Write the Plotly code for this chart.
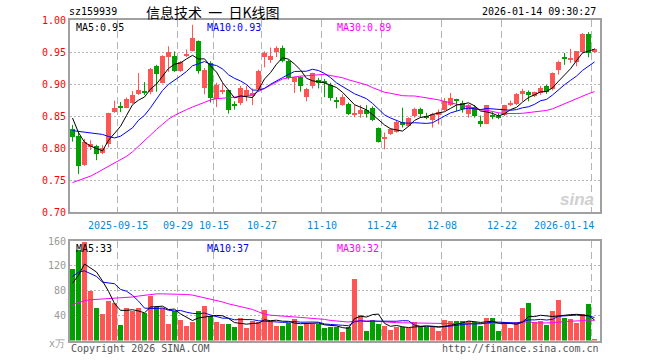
import plotly.graph_objects as go
import pandas as pd

# ---------------- data ----------------
holidays = ["2025-10-01", "2025-10-02", "2025-10-03", "2025-10-06", "2025-10-07",
            "2025-10-08", "2026-01-01", "2026-01-02"]
dates = [d.strftime("%Y-%m-%d") for d in pd.bdate_range("2025-09-03", "2026-01-14")
         if d.strftime("%Y-%m-%d") not in holidays]

opens = [0.830, 0.818, 0.7734, 0.802, 0.8024, 0.7915, 0.807, 0.8562, 0.865, 0.863,
         0.8707, 0.8837, 0.889, 0.888, 0.928, 0.902, 0.942, 0.944, 0.921, 0.943,
         0.952, 0.9666, 0.893, 0.933, 0.877, 0.889, 0.890, 0.869, 0.871, 0.881,
         0.882, 0.8915, 0.9417, 0.9376, 0.9505, 0.956, 0.9365, 0.9034, 0.9106, 0.880,
         0.8966, 0.907, 0.9036, 0.8992, 0.8735, 0.867, 0.869, 0.852, 0.8526, 0.8588,
         0.863, 0.832, 0.815, 0.8226, 0.8257, 0.840, 0.8345, 0.850, 0.8604, 0.850,
         0.8433, 0.851, 0.8588, 0.867, 0.8745, 0.871, 0.8537, 0.864, 0.842, 0.838,
         0.8516, 0.850, 0.8516, 0.867, 0.8692, 0.8847, 0.8878, 0.8811, 0.8863, 0.8966,
         0.8915, 0.9225, 0.9397, 0.9386, 0.9344, 0.9495, 0.978, 0.950]
highs = [0.836, 0.825, 0.814, 0.812, 0.805, 0.8044, 0.855, 0.874, 0.872, 0.879,
         0.889, 0.917, 0.903, 0.925, 0.930, 0.945, 0.959, 0.951, 0.936, 0.954,
         0.9925, 0.968, 0.925, 0.9355, 0.902, 0.902, 0.891, 0.873, 0.897, 0.897,
         0.893, 0.9225, 0.951, 0.957, 0.959, 0.960, 0.938, 0.911, 0.912, 0.894,
         0.9175, 0.9096, 0.908, 0.902, 0.8795, 0.884, 0.871, 0.867, 0.867, 0.867,
         0.865, 0.832, 0.824, 0.831, 0.8422, 0.863, 0.848, 0.863, 0.863, 0.855,
         0.855, 0.860, 0.878, 0.886, 0.877, 0.874, 0.869, 0.867, 0.8507, 0.8673,
         0.856, 0.855, 0.8675, 0.874, 0.886, 0.8925, 0.890, 0.888, 0.897, 0.899,
         0.918, 0.9365, 0.9484, 0.955, 0.951, 0.9795, 0.981, 0.956]
lows = [0.810, 0.7594, 0.772, 0.797, 0.781, 0.7905, 0.801, 0.855, 0.856, 0.862,
        0.869, 0.883, 0.883, 0.884, 0.888, 0.901, 0.919, 0.919, 0.919, 0.942,
        0.951, 0.916, 0.884, 0.871, 0.864, 0.884, 0.8537, 0.860, 0.867, 0.873,
        0.867, 0.890, 0.926, 0.933, 0.942, 0.934, 0.907, 0.886, 0.888, 0.873,
        0.893, 0.893, 0.8795, 0.874, 0.862, 0.866, 0.8516, 0.848, 0.8474, 0.8474,
        0.842, 0.8085, 0.798, 0.8205, 0.824, 0.832, 0.833, 0.8474, 0.8474, 0.845,
        0.832, 0.837, 0.858, 0.8655, 0.858, 0.8552, 0.8475, 0.8475, 0.833, 0.837,
        0.845, 0.845, 0.850, 0.8655, 0.867, 0.873, 0.873, 0.8795, 0.883, 0.8847,
        0.890, 0.9148, 0.930, 0.933, 0.9277, 0.9484, 0.9417, 0.9484]
closes = [0.8174, 0.7718, 0.8101, 0.806, 0.7905, 0.7993, 0.854, 0.862, 0.863, 0.876,
          0.8827, 0.890, 0.887, 0.924, 0.916, 0.944, 0.950, 0.921, 0.934, 0.947,
          0.972, 0.921, 0.9225, 0.8785, 0.899, 0.890, 0.859, 0.865, 0.894, 0.890,
          0.886, 0.921, 0.9484, 0.9433, 0.956, 0.9365, 0.9096, 0.9106, 0.8966, 0.8915,
          0.917, 0.901, 0.903, 0.8785, 0.873, 0.880, 0.8537, 0.853, 0.8588, 0.8526,
          0.8433, 0.810, 0.8155, 0.8293, 0.8412, 0.836, 0.8474, 0.8614, 0.8526, 0.8475,
          0.8537, 0.8563, 0.8733, 0.8785, 0.874, 0.8604, 0.867, 0.850, 0.838, 0.867,
          0.8485, 0.8464, 0.867, 0.871, 0.8847, 0.889, 0.8826, 0.8878, 0.894, 0.8878,
          0.9174, 0.9344, 0.9393, 0.940, 0.951, 0.978, 0.9484, 0.9547]
volumes = [114.7, 145.6, 157.9, 80.0, 52.3, 42.7, 62.9, 60.0, 24.5, 52.0,
           48.0, 53.0, 45.0, 71.0, 54.0, 53.0, 26.5, 48.0, 32.5, 24.0,
           29.3, 48.0, 55.0, 40.0, 29.3, 26.5, 26.5, 21.8, 36.3, 20.3,
           32.0, 29.3, 48.5, 29.3, 24.0, 24.0, 28.3, 34.7, 24.0, 27.2,
           27.2, 27.2, 20.3, 21.3, 21.3, 13.3, 21.3, 98.7, 40.5, 15.0,
           32.5, 26.0, 24.0, 16.5, 21.9, 21.9, 19.7, 29.3, 21.9, 21.9,
           21.9, 15.0, 32.5, 31.0, 31.0, 31.0, 31.0, 29.3, 23.0, 36.0,
           36.0, 15.0, 29.3, 20.3, 30.0, 52.3, 60.3, 29.3, 31.0, 25.6,
           47.0, 64.5, 36.0, 35.0, 28.0, 43.0, 58.0, 1.6]

# closes / volumes of the days just before the window (for the moving averages)
prior_closes = [0.782, 0.820, 0.826, 0.800, 0.809, 0.886, 0.885, 0.836, 0.810]
prior_vols = [75.6, 137.9, 120.0, 102.3, 134.2, 80.6, 67.9, 115.0, 81.8]
# MA30 values at the left edge (their 30-day window reaches before the chart)
ma30_head = [0.746, 0.749, 0.752, 0.756, 0.761, 0.766, 0.771, 0.776, 0.781, 0.787,
             0.794, 0.803, 0.811, 0.820, 0.829, 0.837, 0.845, 0.851, 0.856, 0.860,
             0.864, 0.868, 0.872, 0.875, 0.877, 0.878, 0.879, 0.880, 0.881]
vol_ma30_head = [57.6, 61.0, 64.0, 65.5, 66.0, 66.5, 67.0, 67.5, 68.0, 69.0,
                 70.0, 71.5, 73.0, 74.5, 75.0, 75.0, 75.0, 75.0, 74.5, 74.0,
                 73.0, 71.0, 69.0, 67.0, 65.0, 62.0, 59.0, 57.0, 55.0]

tick_dates = ["2025-09-15", "2025-09-29", "2025-10-15", "2025-10-27", "2025-11-10",
              "2025-11-24", "2025-12-08", "2025-12-22", "2026-01-14"]
tick_texts = ["2025-09-15", "09-29", "10-15", "10-27", "11-10", "11-24", "12-08",
              "12-22", "2026-01-14"]

code = "sz159939"
title = "信息技术&nbsp;&nbsp;一&nbsp;&nbsp;日K线图"
stamp = "2026-01-14 09:30:27"

# ---------------- helpers ----------------
def ma_with_prior(vals, prior, n):
    full = list(prior) + list(vals)
    k = len(prior)
    return [sum(full[k + i - n + 1:k + i + 1]) / n for i in range(len(vals))]

def ma30_calc(vals, head):
    out = []
    for i in range(len(vals)):
        if i < 29:
            out.append(head[i])
        else:
            out.append(sum(vals[i - 29:i + 1]) / 30)
    return out

N = len(dates)
idx = list(range(N))
RED = "#ff5555"
GREEN = "#00a000"
GRID = "#b4b4b4"
colors = [RED if c >= o else GREEN for o, c in zip(opens, closes)]

ma5 = ma_with_prior(closes, prior_closes, 5)
ma10 = ma_with_prior(closes, prior_closes, 10)
ma30 = ma30_calc(closes, ma30_head)
vma5 = ma_with_prior(volumes, prior_vols, 5)
vma10 = ma_with_prior(volumes, prior_vols, 10)
vma30 = ma30_calc(volumes, vol_ma30_head)

fig = go.Figure()

# wicks
for col in (RED, GREEN):
    wx, wy = [], []
    for i in idx:
        if colors[i] == col:
            wx += [i, i, None]
            wy += [lows[i], highs[i], None]
    fig.add_trace(go.Scatter(x=wx, y=wy, mode="lines", line=dict(color=col, width=1),
                             hoverinfo="skip", showlegend=False, xaxis="x", yaxis="y"))

# bodies
min_h = 0.0016
bases = [min(o, c) for o, c in zip(opens, closes)]
heights = [max(abs(c - o), min_h) for o, c in zip(opens, closes)]
fig.add_trace(go.Bar(x=idx, y=heights, base=bases, width=0.83, marker=dict(color=colors, line=dict(width=0)),
                     showlegend=False, xaxis="x", yaxis="y"))

for series, col in ((ma30, "#ff00ff"), (ma10, "#0000ff"), (ma5, "#000000")):
    fig.add_trace(go.Scatter(x=idx, y=series, mode="lines", line=dict(color=col, width=1),
                             showlegend=False, xaxis="x", yaxis="y"))

# volume
fig.add_trace(go.Bar(x=idx, y=volumes, width=0.83, marker=dict(color=colors, line=dict(width=0)),
                     showlegend=False, xaxis="x2", yaxis="y2"))
for series, col in ((vma30, "#ff00ff"), (vma10, "#0000ff"), (vma5, "#000000")):
    fig.add_trace(go.Scatter(x=idx, y=series, mode="lines", line=dict(color=col, width=1),
                             showlegend=False, xaxis="x2", yaxis="y2"))

W, H = 660, 360
def px(x):
    return x / W
def py(y):
    return 1 - y / H

tick_pos = [dates.index(d) - 0.42 for d in tick_dates]
xr = [-0.4167, N - 1 + 0.9167]
mono = "DejaVu Sans Mono"

xcommon = dict(range=xr, tickvals=tick_pos, showticklabels=False, ticks="",
               showgrid=True, gridcolor=GRID, griddash="7px,4px", gridwidth=1,
               showline=True, mirror=True, linecolor="#a0a0a0", linewidth=2,
               zeroline=False, domain=[px(70), px(600)], fixedrange=True, automargin=False)

fig.update_layout(
    width=W, height=H, margin=dict(l=0, r=0, t=0, b=0, autoexpand=False),
    paper_bgcolor="white", plot_bgcolor="white", barmode="overlay", bargap=0,
    xaxis=dict(**xcommon, anchor="y"),
    xaxis2=dict(**xcommon, anchor="y2"),
    yaxis=dict(domain=[py(212), py(20)], range=[0.70, 1.00],
               tickvals=[0.70, 0.75, 0.80, 0.85, 0.90, 0.95, 1.00],
               ticktext=["0.70", "0.75", "0.80", "0.85", "0.90", "0.95", "1.00"],
               tickfont=dict(family=mono, size=10, color="#ff0000"), ticks="",
               showgrid=True, gridcolor=GRID, griddash="2px,2px", gridwidth=1,
               showline=True, mirror=True, linecolor="#a0a0a0", linewidth=2,
               zeroline=False, anchor="x", fixedrange=True, automargin=False),
    yaxis2=dict(domain=[py(340.5), py(241)], range=[0, 160],
                tickvals=[40, 80, 120, 160], ticktext=["40", "80", "120", "160"],
                tickfont=dict(family=mono, size=10, color="#999999"), ticks="",
                showgrid=True, gridcolor=GRID, griddash="2px,2px", gridwidth=1,
                showline=True, mirror=True, linecolor="#a0a0a0", linewidth=2,
                zeroline=False, anchor="x2", fixedrange=True, automargin=False),
    showlegend=False,
)

ann = []
def text(x, y, s, color="#000000", size=10, anchor="left", family=mono, **kw):
    ann.append(dict(x=px(x), y=py(y), xref="paper", yref="paper", text=s, showarrow=False,
                    xanchor=anchor, yanchor="middle", font=dict(family=family, size=size, color=color), **kw))

text(67, 12, code, size=10)
text(213, 12, title, size=14, anchor="center", family="Noto Sans CJK SC")
text(598, 12, stamp, anchor="right", size=10)

text(74, 28, "MA5:%.2f" % ma5[-1])
text(205, 28, "MA10:%.2f" % ma10[-1], color="#0000ff")
text(335, 28, "MA30:%.2f" % ma30[-1], color="#ff00ff")

text(74, 248, "MA5:%d" % round(vma5[-1]))
text(205, 248, "MA10:%d" % round(vma10[-1]), color="#0000ff")
text(335, 248, "MA30:%d" % round(vma30[-1]), color="#ff00ff")

# x date labels
for t, lab in zip(tick_pos, tick_texts):
    xpix = 70 + (t - xr[0]) / (xr[1] - xr[0]) * 530
    if lab == tick_texts[-1]:
        text(min(xpix + 30, 596), 225, lab, color="#0a88d6", anchor="right")
    else:
        text(xpix, 225, lab, color="#0a88d6", anchor="center")

text(67, 343, "x万", color="#999999", anchor="right", size=10)
text(69, 348, "Copyright 2026 SINA.COM", color="#555555", size=10)
text(601, 348, "http://finance.sina.com.cn", color="#555555", anchor="right", size=10)
text(596, 199, "<b><i>sina</i></b>", color="#d0d0d0", anchor="right", size=17, family="Liberation Sans")

fig.update_layout(annotations=ann)
fig.write_html("out.html", config={"displayModeBar": False},
               post_script="document.body.style.margin='0';document.body.style.padding='0';")
